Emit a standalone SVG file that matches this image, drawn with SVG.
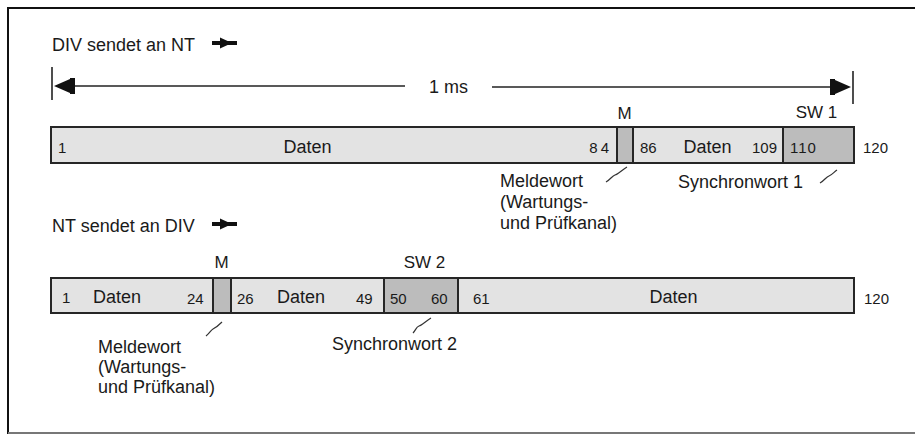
<svg xmlns="http://www.w3.org/2000/svg" width="915" height="435" viewBox="0 0 915 435">
  <style>
    text { font-family: "Liberation Sans", Arial, sans-serif; fill: #1a1a1a; }
    .title { font-size: 18px; }
    .lbl { font-size: 18px; }
    .hdr { font-size: 17px; }
    .num { font-size: 15px; }
    .data { fill: #e3e3e3; stroke: #262626; stroke-width: 2; }
    .ctrl { fill: #bcbcbc; stroke: #262626; stroke-width: 2; }
    .lead { fill: none; stroke: #333; stroke-width: 1.2; }
    .dim { stroke: #222; stroke-width: 1.6; fill: none; }
    .head { fill: #111; }
  </style>
  <defs>
    <!-- small direction arrow shown after each title -->
    <g id="dirArrow">
      <rect x="0" y="-2" width="25" height="4" class="head"/>
      <path d="M8,-5.5 L20,0 L8,5.5 Z" class="head"/>
    </g>
  </defs>

  <rect x="0" y="0" width="915" height="435" fill="#fff"/>

  <!-- outer frame (open on the right) -->
  <g id="frame">
    <line x1="8" y1="8" x2="915" y2="8" stroke="#111" stroke-width="2"/>
    <line x1="8" y1="7" x2="8" y2="434" stroke="#111" stroke-width="2"/>
    <line x1="8" y1="433" x2="915" y2="433" stroke="#777" stroke-width="2"/>
  </g>

  <!-- upper frame: DIV to NT -->
  <g id="title-div-nt">
    <text class="title" x="52" y="51">DIV sendet an NT</text>
    <use href="#dirArrow" x="212" y="43"/>
  </g>

  <g id="connectors">
    <!-- 1 ms span -->
    <g id="span-1ms">
      <line class="dim" x1="52" y1="67" x2="52" y2="100"/>
      <line class="dim" x1="853" y1="71" x2="853" y2="104"/>
      <line class="dim" x1="72" y1="86" x2="405" y2="86"/>
      <line class="dim" x1="492" y1="87" x2="833" y2="87"/>
      <path class="head" d="M54,86 L70,79 L70,78 L75,78 L75,94 L70,94 L70,93 Z"/>
      <path class="head" d="M851,87 L835,80 L835,79 L830,79 L830,95 L835,95 L835,94 Z"/>
    </g>
    <!-- leaders to the explanatory notes -->
    <path class="lead" d="M606,182 C611,179 612,176 615,175 S622,170 627,167"/>
    <path class="lead" d="M820,183 C825,180 826,177 829,176 S834,172 837,170"/>
    <path class="lead" d="M206,336 C210,333 211,330 213,329 S219,325 222,322"/>
    <path class="lead" d="M413,333 C416,330 416,327 419,326 S426,321 431,318"/>
  </g>

  <text id="label-1ms" class="lbl" x="429" y="93">1 ms</text>

  <!-- upper frame bar -->
  <g id="frame-top">
    <rect class="data" x="51" y="127" width="803" height="36"/>
    <rect class="ctrl" x="617" y="127" width="16" height="36"/>
    <rect class="ctrl" x="783" y="127" width="71" height="36"/>
    <text class="num" x="58" y="153">1</text>
    <text class="lbl" x="307.5" y="153" text-anchor="middle">Daten</text>
    <text class="num" x="612" y="153" text-anchor="end" letter-spacing="3">84</text>
    <text class="num" x="640" y="153">86</text>
    <text class="lbl" x="707.5" y="153" text-anchor="middle">Daten</text>
    <text class="num" x="752" y="153">109</text>
    <text class="num" x="790" y="153" letter-spacing="1">110</text>
    <text class="num" x="863" y="153">120</text>
  </g>
  <g id="hdr-top">
    <text class="hdr" x="624.5" y="119" text-anchor="middle">M</text>
    <text class="hdr" x="816.5" y="118" text-anchor="middle">SW 1</text>
  </g>
  <g id="note-melde-top">
    <text class="lbl" x="500" y="187">Meldewort</text>
    <text class="lbl" x="500" y="208">(Wartungs-</text>
    <text class="lbl" x="500" y="229">und Prüfkanal)</text>
  </g>
  <g id="note-sync-1">
    <text class="lbl" x="678" y="188">Synchronwort 1</text>
  </g>

  <!-- lower frame: NT to DIV -->
  <g id="title-nt-div">
    <text class="title" x="52" y="232">NT sendet an DIV</text>
    <use href="#dirArrow" x="212" y="224"/>
  </g>

  <g id="hdr-bottom">
    <text class="hdr" x="221.5" y="268" text-anchor="middle">M</text>
    <text class="hdr" x="424.5" y="268" text-anchor="middle">SW 2</text>
  </g>

  <g id="frame-bottom">
    <rect class="data" x="51" y="278" width="803" height="35"/>
    <rect class="ctrl" x="213" y="278" width="18" height="35"/>
    <rect class="ctrl" x="384" y="278" width="74" height="35"/>
    <text class="num" x="62" y="303">1</text>
    <text class="lbl" x="117" y="303" text-anchor="middle">Daten</text>
    <text class="num" x="187" y="304">24</text>
    <text class="num" x="237" y="304">26</text>
    <text class="lbl" x="301" y="303" text-anchor="middle">Daten</text>
    <text class="num" x="356" y="304">49</text>
    <text class="num" x="390" y="304">50</text>
    <text class="num" x="431" y="304">60</text>
    <text class="num" x="473" y="304">61</text>
    <text class="lbl" x="673.5" y="303" text-anchor="middle">Daten</text>
    <text class="num" x="864" y="304">120</text>
  </g>
  <g id="note-melde-bottom">
    <text class="lbl" x="98" y="353">Meldewort</text>
    <text class="lbl" x="98" y="373">(Wartungs-</text>
    <text class="lbl" x="98" y="393">und Prüfkanal)</text>
  </g>
  <g id="note-sync-2">
    <text class="lbl" x="332" y="350">Synchronwort 2</text>
  </g>
</svg>
